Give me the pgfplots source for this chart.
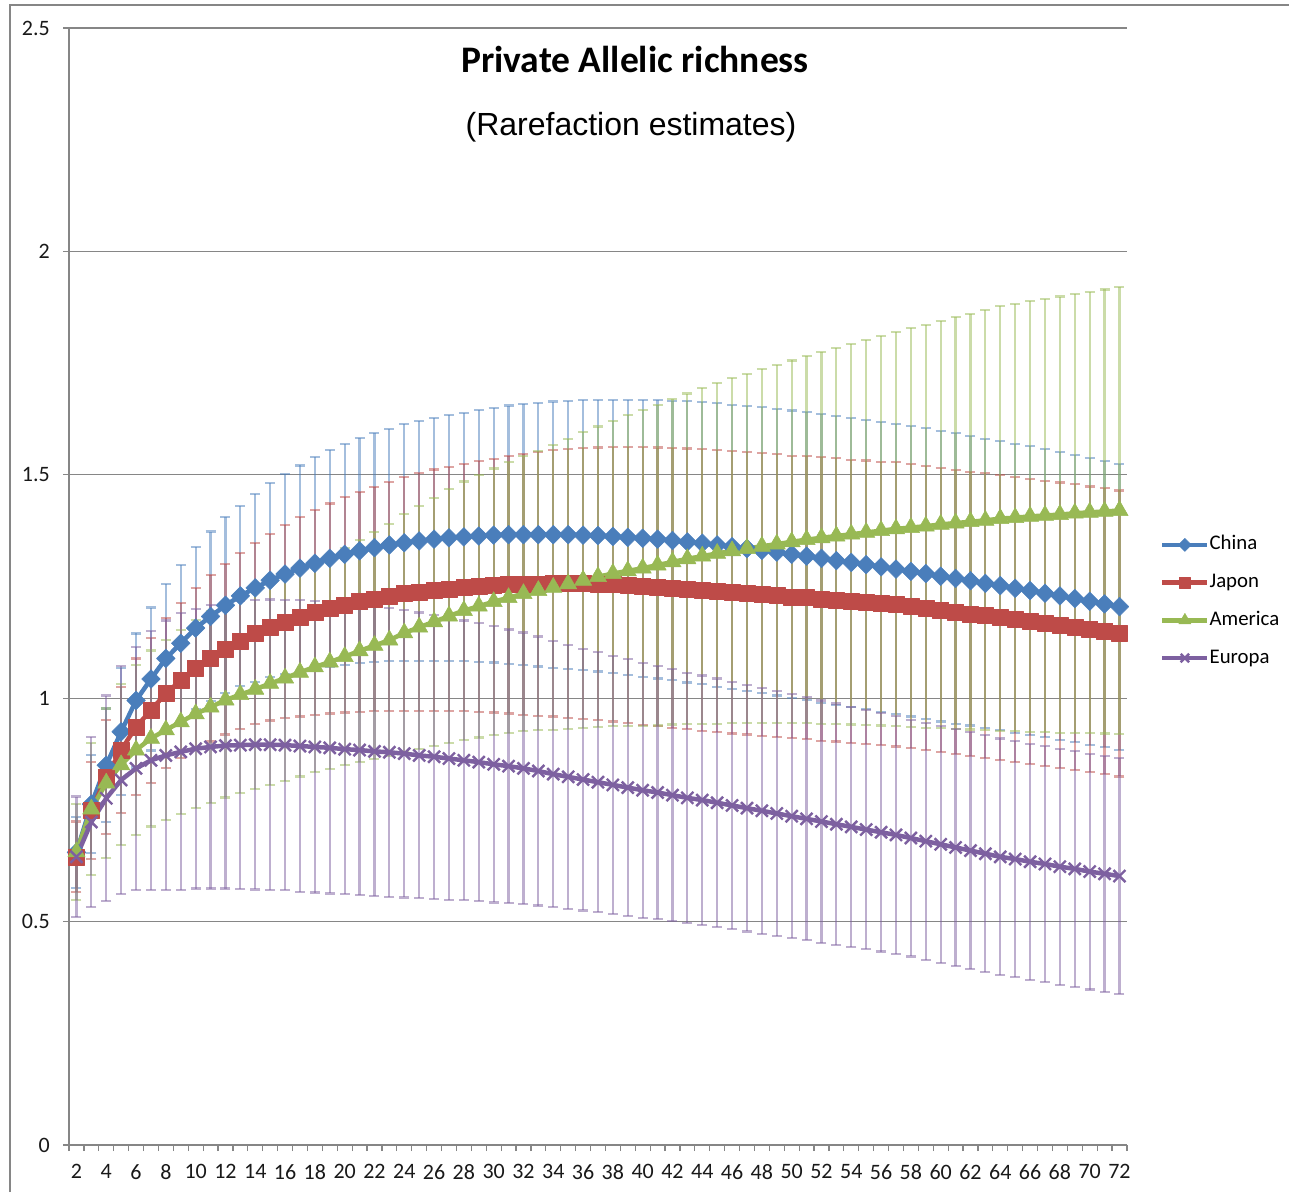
\documentclass[border=0pt]{standalone}
\usepackage{fontspec}
\setmainfont{Carlito}
\newfontfamily\subfont{Liberation Sans}
\usepackage{pgfplots}
\usepackage{pgfplotstable}
\pgfplotsset{compat=1.18}

\definecolor{cChina}{HTML}{4A7EBB}
\definecolor{cJapon}{HTML}{BE4B48}
\definecolor{cAmerica}{HTML}{98B954}
\definecolor{cEuropa}{HTML}{7D60A0}
\definecolor{gridgray}{HTML}{868686}

% n: sample size; c/j/a/e: rarefied private allelic richness; *e: error
\pgfplotstableread{
n  c     ce    j     je    a     ae    e     ee
2  0.655 0.080 0.645 0.079 0.656 0.108 0.645 0.135
3  0.763 0.110 0.749 0.108 0.752 0.148 0.723 0.190
4  0.850 0.127 0.824 0.128 0.810 0.167 0.776 0.230
5  0.925 0.142 0.884 0.141 0.851 0.180 0.817 0.255
6  0.995 0.150 0.936 0.153 0.884 0.190 0.843 0.272
7  1.043 0.160 0.973 0.162 0.910 0.197 0.861 0.290
8  1.089 0.166 1.011 0.168 0.929 0.201 0.872 0.302
9  1.123 0.176 1.040 0.174 0.947 0.206 0.880 0.310
10 1.157 0.182 1.067 0.179 0.965 0.210 0.887 0.313
11 1.183 0.190 1.089 0.186 0.980 0.214 0.891 0.317
12 1.208 0.197 1.110 0.191 0.996 0.218 0.894 0.320
13 1.229 0.202 1.128 0.197 1.008 0.221 0.895 0.322
14 1.247 0.210 1.145 0.203 1.020 0.224 0.896 0.324
15 1.264 0.217 1.159 0.209 1.033 0.227 0.896 0.325
16 1.278 0.223 1.171 0.216 1.045 0.230 0.895 0.325
17 1.291 0.230 1.182 0.223 1.058 0.233 0.893 0.326
18 1.302 0.237 1.192 0.229 1.070 0.236 0.891 0.326
19 1.313 0.242 1.201 0.235 1.081 0.240 0.889 0.326
20 1.322 0.247 1.209 0.241 1.093 0.243 0.886 0.325
21 1.330 0.252 1.216 0.246 1.106 0.248 0.884 0.325
22 1.337 0.256 1.222 0.251 1.118 0.254 0.881 0.324
23 1.343 0.260 1.228 0.256 1.130 0.260 0.879 0.323
24 1.348 0.265 1.234 0.262 1.146 0.266 0.876 0.322
25 1.352 0.268 1.238 0.266 1.159 0.272 0.872 0.320
26 1.356 0.272 1.242 0.270 1.171 0.278 0.869 0.318
27 1.359 0.275 1.245 0.273 1.184 0.284 0.865 0.316
28 1.361 0.278 1.248 0.277 1.196 0.289 0.861 0.313
29 1.363 0.282 1.250 0.281 1.206 0.294 0.857 0.311
30 1.365 0.285 1.252 0.284 1.216 0.298 0.852 0.309
31 1.366 0.289 1.254 0.288 1.225 0.303 0.848 0.306
32 1.366 0.292 1.255 0.292 1.234 0.308 0.843 0.304
33 1.366 0.295 1.256 0.295 1.241 0.313 0.837 0.301
34 1.366 0.298 1.257 0.298 1.248 0.319 0.830 0.298
35 1.366 0.300 1.257 0.301 1.256 0.325 0.824 0.295
36 1.365 0.302 1.257 0.303 1.264 0.331 0.818 0.293
37 1.364 0.304 1.256 0.305 1.272 0.336 0.812 0.291
38 1.362 0.306 1.255 0.307 1.279 0.342 0.806 0.289
39 1.360 0.308 1.253 0.309 1.285 0.348 0.800 0.287
40 1.358 0.310 1.251 0.311 1.291 0.354 0.794 0.285
41 1.356 0.312 1.249 0.312 1.298 0.359 0.789 0.283
42 1.353 0.313 1.247 0.313 1.305 0.364 0.783 0.282
43 1.350 0.315 1.245 0.314 1.312 0.370 0.777 0.280
44 1.347 0.316 1.242 0.315 1.318 0.376 0.772 0.279
45 1.343 0.317 1.240 0.316 1.324 0.381 0.766 0.278
46 1.339 0.318 1.237 0.316 1.330 0.386 0.760 0.277
47 1.335 0.319 1.235 0.316 1.335 0.391 0.754 0.276
48 1.331 0.320 1.232 0.316 1.340 0.396 0.748 0.275
49 1.327 0.321 1.230 0.316 1.345 0.401 0.742 0.274
50 1.322 0.322 1.227 0.316 1.350 0.406 0.736 0.273
51 1.318 0.322 1.225 0.317 1.355 0.411 0.730 0.272
52 1.313 0.323 1.222 0.317 1.359 0.416 0.724 0.271
53 1.308 0.323 1.220 0.317 1.363 0.421 0.718 0.270
54 1.304 0.324 1.217 0.317 1.367 0.426 0.712 0.269
55 1.299 0.324 1.215 0.317 1.371 0.431 0.706 0.268
56 1.294 0.324 1.212 0.317 1.375 0.436 0.700 0.267
57 1.289 0.325 1.210 0.318 1.379 0.441 0.694 0.266
58 1.284 0.325 1.206 0.318 1.382 0.446 0.687 0.265
59 1.279 0.325 1.202 0.318 1.385 0.451 0.680 0.265
60 1.273 0.325 1.198 0.318 1.389 0.456 0.673 0.265
61 1.268 0.325 1.193 0.318 1.392 0.461 0.666 0.265
62 1.263 0.324 1.189 0.318 1.395 0.465 0.659 0.265
63 1.257 0.324 1.185 0.319 1.398 0.470 0.652 0.265
64 1.252 0.324 1.181 0.319 1.402 0.475 0.645 0.265
65 1.246 0.323 1.177 0.319 1.404 0.478 0.640 0.264
66 1.241 0.323 1.172 0.319 1.407 0.482 0.634 0.264
67 1.235 0.322 1.168 0.319 1.409 0.485 0.629 0.264
68 1.229 0.322 1.163 0.320 1.411 0.488 0.623 0.264
69 1.223 0.321 1.159 0.320 1.414 0.491 0.618 0.264
70 1.217 0.321 1.154 0.320 1.416 0.494 0.612 0.264
71 1.211 0.320 1.150 0.320 1.418 0.497 0.607 0.264
72 1.205 0.320 1.145 0.320 1.420 0.500 0.602 0.264
}\data

\pgfplotsset{
  errbars/.style={forget plot, draw opacity=0, mark=none,
    error bars/.cd, y dir=both, y explicit,
    error bar style={draw=#1, draw opacity=0.5, line width=2.2pt},
    error mark options={rotate=90, draw=#1, draw opacity=0.5, line width=2.2pt, mark size=5pt}},
}

\begin{document}
\begin{tikzpicture}
\useasboundingbox (0pt,0pt) rectangle (1289pt,-1192pt);
% chart area frame
\draw[gridgray, line width=1.5pt] (10pt,-1192pt) -- (10pt,-5pt) -- (1289pt,-5pt);

\begin{axis}[
  at={(69pt,-1145pt)}, anchor=south west,
  scale only axis, width=1058pt, height=1117pt,
  xmin=1.5, xmax=72.5, ymin=0, ymax=2.5,
  axis x line*=bottom, axis y line*=left,
  axis line style={draw=gridgray, line width=1.3pt, -},
  xtick={2,4,...,72},
  x tick style={draw=none},
  extra x ticks={1.5,2.5,...,72.5}, extra x tick labels={},
  extra x tick style={xtick style={draw=gridgray, line width=1.2pt}, grid=none},
  ytick={0,0.5,1,1.5,2,2.5},
  yticklabels={0,0.5,1,1.5,2,2.5},
  ymajorgrids, grid style={draw=gridgray, line width=1.2pt},
  y tick style={draw=gridgray, line width=1.2pt},
  major tick length=6pt, tick align=outside,
  /pgf/number format/assume math mode=true,
  tick label style={font=\fontsize{22}{26}\selectfont, text=black!90, inner sep=0pt},
  xticklabel style={anchor=north, yshift=-13pt},
  yticklabel style={anchor=east, xshift=-13pt},
  clip=false,
  legend style={at={(1.0312,0.4866)}, anchor=west, draw=none, fill=none,
    inner sep=0pt, font=\fontsize{20.8}{24}\selectfont, row sep=19.7pt,
    nodes={inner sep=0pt, text height=14pt, text depth=4pt}},
  legend cell align=left,
  legend image code/.code={
    \draw[#1, every mark/.append style={scale=0.7}, mark repeat=2, mark phase=2]
      plot coordinates {(0pt,0pt) (22.5pt,0pt) (45pt,0pt)};
  },
]
% error bars first, so lines and markers sit on top
\addplot[errbars=cChina]   table[x=n, y=c, y error=ce]{\data};
\addplot[errbars=cJapon]   table[x=n, y=j, y error=je]{\data};
\addplot[errbars=cAmerica] table[x=n, y=a, y error=ae]{\data};
\addplot[errbars=cEuropa]  table[x=n, y=e, y error=ee]{\data};

\addplot[cChina, line width=4.5pt, line join=round, mark=square*, mark size=6.6pt,
  mark options={rotate=45, solid, line width=0.5pt, fill=cChina}]
  table[x=n, y=c]{\data};
\addlegendentry{China}
\addplot[cJapon, line width=4.5pt, line join=round, mark=square*, mark size=8pt,
  mark options={solid, line width=0.5pt, fill=cJapon}]
  table[x=n, y=j]{\data};
\addlegendentry{Japon}
\addplot[cAmerica, line width=4.5pt, line join=round, mark=triangle*, mark size=10pt,
  mark options={solid, line width=0.5pt, fill=cAmerica}]
  table[x=n, y=a]{\data};
\addlegendentry{America}
\addplot[cEuropa, line width=4.5pt, line join=round, mark=x, mark size=8.5pt,
  mark options={solid, line width=2.4pt}]
  table[x=n, y=e]{\data};
\addlegendentry{Europa}
\end{axis}

\node[anchor=base, font=\bfseries\fontsize{37.5}{44}\selectfont] at (635pt,-72pt) {Private Allelic richness};
\node[anchor=base, font=\subfont\fontsize{32}{38}\selectfont] at (631pt,-135pt) {(Rarefaction estimates)};
\end{tikzpicture}
\end{document}
